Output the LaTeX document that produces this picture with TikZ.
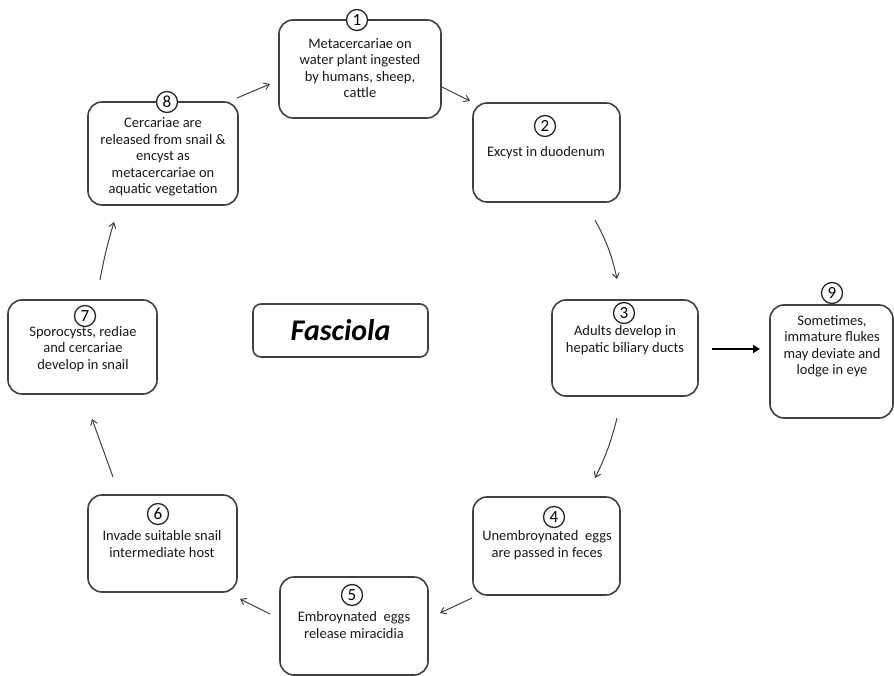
\documentclass[tikz,border=0pt]{standalone}
\usepackage{fontspec}
\setmainfont{Carlito}
\usetikzlibrary{arrows.meta}
\begin{document}
\begin{tikzpicture}[x=1pt,y=-1pt,
  stage/.style={draw=black!75, line width=1.6pt, rounded corners=14pt, fill=white, inner sep=0pt, outer sep=0pt},
  num/.style={draw=black!85, line width=1.3pt, circle, fill=white, inner sep=0pt, minimum size=21pt, font=\fontsize{17}{17}\selectfont},
  txt/.style={align=center, font=\fontsize{14.5}{16.5}\selectfont, text=black!90, inner sep=0pt},
  arr/.style={draw=black!75, line width=1pt, -{Straight Barb[length=5pt,width=7pt]}},
  bigarr/.style={draw=black, line width=2.4pt, -{Triangle[length=7pt,width=8pt]}},
]
\useasboundingbox (0,0) rectangle (894,676);

% stage boxes
\node[stage, minimum width=162pt, minimum height=98pt]  (b1) at (360,69) {};
\node[stage, minimum width=147pt, minimum height=99pt]  (b2) at (546.5,152.5) {};
\node[stage, minimum width=146pt, minimum height=96pt]  (b3) at (625,348) {};
\node[stage, minimum width=123pt, minimum height=113pt] (b9) at (831.5,361.5) {};
\node[stage, minimum width=147pt, minimum height=98pt]  (b4) at (546.5,546) {};
\node[stage, minimum width=148pt, minimum height=98pt]  (b5) at (354,626) {};
\node[stage, minimum width=149pt, minimum height=97pt]  (b6) at (162.5,543.5) {};
\node[stage, minimum width=149pt, minimum height=94pt]  (b7) at (82.5,347) {};
\node[stage, minimum width=150pt, minimum height=103pt] (b8) at (163,153.5) {};

% title box
\node[stage, rounded corners=8pt, minimum width=175pt, minimum height=53pt,
      font=\fontsize{30}{30}\selectfont\bfseries\itshape] (bf) at (340.5,330.5) {Fasciola};

% stage numbers
\node[num] (n1) at (357,20)  {1};
\node[num] (n2) at (545,126) {2};
\node[num] (n3) at (624,313) {3};
\node[num] (n9) at (832,293) {9};
\node[num] (n4) at (554,517) {4};
\node[num] (n5) at (352,595) {5};
\node[num] (n6) at (158,514) {6};
\node[num] (n7) at (85,316)  {7};
\node[num] (n8) at (167,102) {8};

% stage texts
\node[txt] (t1) at (360,68)  {Metacercariae on\\water plant ingested\\by humans, sheep,\\cattle};
\node[txt] (t2) at (546,153) {Excyst in duodenum};
\node[txt] (t3) at (625,340) {Adults develop in\\hepatic biliary ducts};
\node[txt] (t9) at (832,346) {Sometimes,\\immature flukes\\may deviate and\\lodge in eye};
\node[txt] (t4) at (547,545) {Unembroynated\ \ eggs\\are passed in feces};
\node[txt] (t5) at (354,625) {Embroynated\ \ eggs\\release miracidia};
\node[txt] (t6) at (162,544) {Invade suitable snail\\intermediate host};
\node[txt] (t7) at (83,349)  {Sporocysts, rediae\\and cercariae\\develop in snail};
\node[txt] (t8) at (163,157) {Cercariae are\\released from snail \&\\encyst as\\metacercariae on\\aquatic vegetation};

% cycle arrows
\draw[arr] ([shift={(-1,-4)}]b8.north east) -- ([shift={(-9,64)}]b1.north west);
\draw[arr] ([shift={(1,67)}]b1.north east) -- ([shift={(-3,-2)}]b2.north west);
\draw[arr] ([shift={(48.5,18)}]b2.south) to[bend left=8] ([shift={(-8,-21)}]b3.north);
\draw[arr] ([shift={(-8,22)}]b3.south) to[bend left=6] ([shift={(48.5,-19)}]b4.north);
\draw[arr] ([shift={(-1,3)}]b4.south west) -- ([shift={(12,36)}]b5.north east);
\draw[arr] ([shift={(-10,37)}]b5.north west) -- ([shift={(3,7)}]b6.south east);
\draw[arr] ([shift={(-49.5,-18)}]b6.north) -- ([shift={(9.5,25)}]b7.south);
\draw[arr] ([shift={(17.5,-20)}]b7.north) to[bend left=3] ([shift={(-49,17)}]b8.south);

% side branch
\draw[bigarr] ([shift={(14,1)}]b3.east) -- ([shift={(-10,-12.5)}]b9.west);
\end{tikzpicture}
\end{document}
